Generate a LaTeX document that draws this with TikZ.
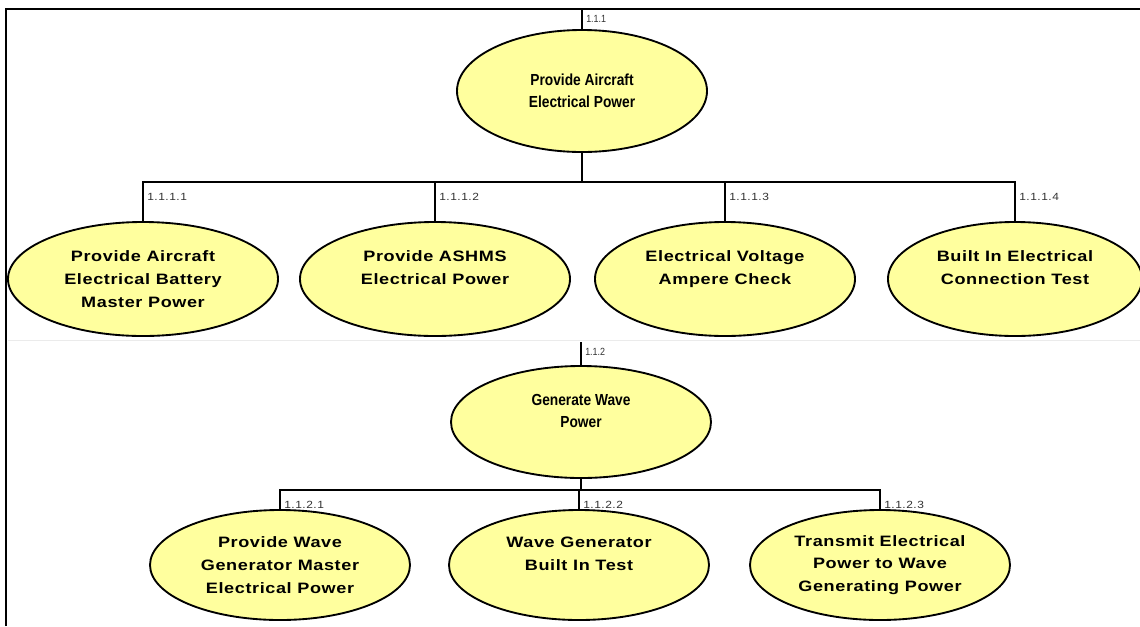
\documentclass[tikz,border=0pt]{standalone}
\usepackage{fontspec}
\setmainfont{Liberation Sans}
\newfontfamily\narrowfont[FakeStretch=0.86]{Liberation Sans}
\newfontfamily\widefont[FakeStretch=1.2,LetterSpace=4]{Liberation Sans}
\newfontfamily\numfont[FakeStretch=1.15,LetterSpace=5]{Liberation Sans}
\usetikzlibrary{shapes.geometric}
\definecolor{bubble}{RGB}{255,255,158}
\tikzset{
  func/.style={ellipse, draw=black, line width=1.4pt, fill=bubble, inner sep=0pt,
    minimum width=260*0.75pt, minimum height=114*0.75pt, align=center,
    font=\widefont\fontsize{11.3}{17}\selectfont\bfseries},
  rootfunc/.style={func, font=\narrowfont\fontsize{12}{16.8}\selectfont\bfseries},
  conn/.style={line width=1.8pt, line cap=rect},
  num/.style={anchor=west, inner sep=0pt, font=\numfont\fontsize{7.8}{8}\selectfont, text=black!80},
  narrownum/.style={num, font=\narrowfont\fontsize{7.8}{8}\selectfont}
}
\begin{document}
\begin{tikzpicture}[x=0.75pt,y=-0.75pt]
\useasboundingbox (0,0) rectangle (1140,626);
\fill[white] (0,0) rectangle (1140,626);
% frame
\draw[line width=2.2pt] (6,626) -- (6,9) -- (1140,9);
\draw[black!8, line width=0.6pt] (8,340) -- (1140,340);

% ---------- upper tree ----------
\node[rootfunc, minimum width=250*0.75pt, minimum height=122*0.75pt] (r1) at (582,91) {Provide Aircraft\\Electrical Power};
\coordinate (t1) at (582,9);
\node[narrownum] at (586,19) {1.1.1};

\node[func, minimum width=270*0.75pt] (a1) at (143,279) {Provide Aircraft\\Electrical Battery\\Master Power};
\node[func, minimum width=270*0.75pt] (a2) at (435,279) {Provide ASHMS\\Electrical Power\\\mbox{}};
\node[func] (a3) at (725,279) {Electrical Voltage\\Ampere Check\\\mbox{}};
\node[func, minimum width=254*0.75pt] (a4) at (1015,279) {Built In Electrical\\Connection Test\\\mbox{}};

\coordinate (b1) at (582,182);
\draw[conn] (t1) -- (r1.north);
\draw[conn] (r1.south) -- (b1);
\draw[conn] (a1.north) -- (a1.north |- b1) -- (a4.north |- b1) -- (a4.north);
\draw[conn] (a2.north) -- (a2.north |- b1);
\draw[conn] (a3.north) -- (a3.north |- b1);
\node[num] at (147,197) {1.1.1.1};
\node[num] at (439,197) {1.1.1.2};
\node[num] at (729,197) {1.1.1.3};
\node[num] at (1019,197) {1.1.1.4};

% ---------- lower tree ----------
\node[rootfunc, minimum width=260*0.75pt, minimum height=112*0.75pt] (r2) at (581,422) {Generate Wave\\Power\\\mbox{}};
\coordinate (t2) at (581,343);
\node[narrownum] at (585,352) {1.1.2};

\node[func, minimum height=110*0.75pt] (c1) at (280,565) {Provide Wave\\Generator Master\\Electrical Power};
\node[func, minimum height=110*0.75pt] (c2) at (579,565) {Wave Generator\\Built In Test\\\mbox{}};
\node[func, minimum height=110*0.75pt] (c3) at (880,565) {Transmit Electrical\\Power to Wave\\Generating Power};

\coordinate (b2) at (581,490);
\draw[conn] (t2) -- (r2.north);
\draw[conn] (r2.south) -- (b2);
\draw[conn] (c1.north) -- (c1.north |- b2) -- (c3.north |- b2) -- (c3.north);
\draw[conn] (c2.north) -- (c2.north |- b2);
\node[num] at (284,505) {1.1.2.1};
\node[num] at (583,505) {1.1.2.2};
\node[num] at (884,505) {1.1.2.3};
\end{tikzpicture}
\end{document}
